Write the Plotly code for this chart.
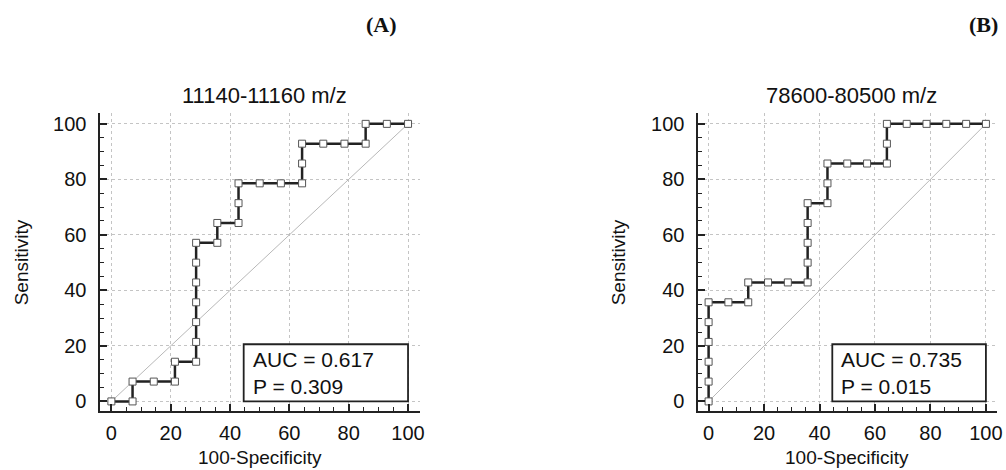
import plotly.graph_objects as go

# Panel A: 11140-11160 m/z
a_x = [0, 7.14, 7.14, 14.29, 21.43, 21.43, 28.57, 28.57, 28.57, 28.57, 28.57, 28.57, 28.57,
       35.71, 35.71, 42.86, 42.86, 42.86, 50.0, 57.14, 64.29, 64.29, 64.29, 71.43, 78.57, 85.71,
       85.71, 92.86, 100]
a_y = [0, 0, 7.14, 7.14, 7.14, 14.29, 14.29, 21.43, 28.57, 35.71, 42.86, 50.0, 57.14,
       57.14, 64.29, 64.29, 71.43, 78.57, 78.57, 78.57, 78.57, 85.71, 92.86, 92.86, 92.86, 92.86,
       100, 100, 100]
# Panel B: 78600-80500 m/z
b_x = [0, 0, 0, 0, 0, 0, 7.14, 14.29, 14.29, 21.43, 28.57, 35.71, 35.71, 35.71, 35.71, 35.71,
       42.86, 42.86, 42.86, 50.0, 57.14, 64.29, 64.29, 64.29, 71.43, 78.57, 85.71, 92.86, 100]
b_y = [0, 7.14, 14.29, 21.43, 28.57, 35.71, 35.71, 35.71, 42.86, 42.86, 42.86, 42.86, 50.0,
       57.14, 64.29, 71.43, 71.43, 78.57, 85.71, 85.71, 85.71, 85.71, 92.86, 100, 100, 100,
       100, 100, 100]

titles = ["11140-11160 m/z", "78600-80500 m/z"]
panel_labels = ["(A)", "(B)"]
stats = ["AUC = 0.617<br>P = 0.309", "AUC = 0.735<br>P = 0.015"]
tick_vals = [0, 20, 40, 60, 80, 100]
x_title = "100-Specificity"
y_title = "Sensitivity"

W, H = 1006, 470
FONT = "Liberation Sans, Arial, sans-serif"

def px_x(p):
    return p / W

def px_y(p):
    return 1 - p / H

x_domains = [[px_x(100), px_x(422)], [px_x(701), px_x(1002)]]
y_domain = [px_y(412), px_y(113)]

fig = go.Figure()
series = [(a_x, a_y), (b_x, b_y)]
for i, (xs, ys) in enumerate(series):
    xa = "x" if i == 0 else "x2"
    ya = "y" if i == 0 else "y2"
    fig.add_trace(go.Scatter(x=[0, 100], y=[0, 100], mode="lines", xaxis=xa, yaxis=ya,
                             line=dict(color="#b8b8b8", width=1), showlegend=False,
                             hoverinfo="skip"))
    fig.add_trace(go.Scatter(x=xs, y=ys, mode="lines+markers", xaxis=xa, yaxis=ya,
                             line=dict(color="#222222", width=2.5),
                             marker=dict(symbol="square", size=7, color="white",
                                         line=dict(color="#555555", width=1)),
                             showlegend=False))

axis_common = dict(
    range=[-4, 104], tickvals=tick_vals, ticks="inside", ticklen=7, tickwidth=1.5,
    tickcolor="#222", showline=True, linecolor="#222", linewidth=2.2,
    showgrid=True, gridcolor="#c4c4c4", griddash="dot", gridwidth=1, zeroline=False,
    tickfont=dict(family=FONT, size=20, color="#111"),
    minor=dict(dtick=5, ticks="inside", ticklen=4, tickcolor="#222", tickwidth=1, showgrid=False),
)
yaxis_common = dict(axis_common)
yaxis_common["range"] = [-3.5, 104]

fig.update_layout(
    width=W, height=H, margin=dict(l=0, r=0, t=0, b=0),
    paper_bgcolor="white", plot_bgcolor="white",
    xaxis=dict(axis_common, domain=x_domains[0], anchor="y", ticklabelstandoff=3),
    yaxis=dict(yaxis_common, domain=y_domain, anchor="x", ticklabelstandoff=7),
    xaxis2=dict(axis_common, domain=x_domains[1], anchor="y2", ticklabelstandoff=3),
    yaxis2=dict(yaxis_common, domain=y_domain, anchor="x2", ticklabelstandoff=7),
)

title_cx = [266, 856]
ytitle_cx = [22, 622]
label_cx = [383, 988]
annots = []
shapes = []
for i in range(2):
    xr = "x" if i == 0 else "x2"
    yr = "y" if i == 0 else "y2"
    annots.append(dict(text=titles[i], x=px_x(title_cx[i]), y=px_y(96), xref="paper", yref="paper",
                       showarrow=False, xanchor="center", yanchor="middle",
                       font=dict(family=FONT, size=22, color="#111")))
    annots.append(dict(text="<b>" + panel_labels[i] + "</b>", x=px_x(label_cx[i]), y=px_y(25),
                       xref="paper", yref="paper", showarrow=False, xanchor="center",
                       yanchor="middle",
                       font=dict(family="Liberation Serif, Times New Roman, serif", size=22,
                                 color="#111")))
    annots.append(dict(text=x_title, x=(x_domains[i][0] + x_domains[i][1]) / 2, y=px_y(458),
                       xref="paper", yref="paper", showarrow=False, xanchor="center",
                       yanchor="middle", font=dict(family=FONT, size=19, color="#111")))
    annots.append(dict(text=y_title, x=px_x(ytitle_cx[i]), y=px_y(263), xref="paper",
                       yref="paper", showarrow=False, xanchor="center", yanchor="middle",
                       textangle=-90, font=dict(family=FONT, size=19, color="#111")))
    shapes.append(dict(type="rect", xref=xr, yref=yr, x0=44.6, x1=100, y0=0, y1=20.6,
                       line=dict(color="#222", width=1.8), fillcolor="white", layer="above"))
    annots.append(dict(text=stats[i], x=47.0, y=10.3, xref=xr, yref=yr, showarrow=False,
                       xanchor="left", yanchor="middle", align="left",
                       font=dict(family=FONT, size=21, color="#111")))

fig.update_layout(annotations=annots, shapes=shapes)
fig.write_html("out.html")
